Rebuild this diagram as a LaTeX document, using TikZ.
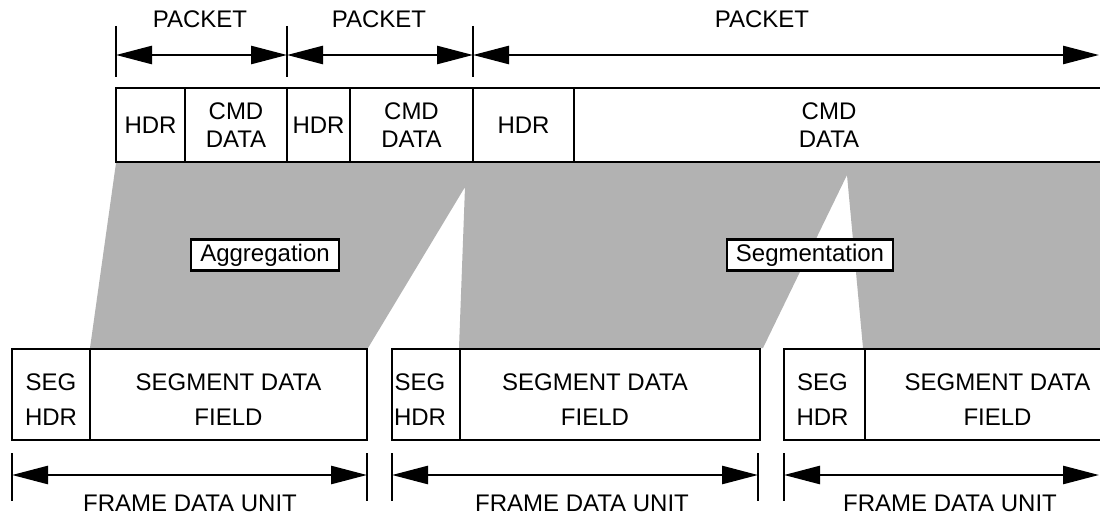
\documentclass[tikz,border=0pt]{standalone}
\usepackage{fontspec}
\setmainfont{Liberation Sans}
\usetikzlibrary{arrows.meta}
\begin{document}
\begin{tikzpicture}[x=1pt,y=-1pt,
  font=\fontsize{24}{28}\selectfont,
  fld/.style={draw, line width=2.6pt, inner sep=0pt, align=center, minimum height=74pt},
  frm/.style={draw, line width=2.6pt, inner sep=0pt, minimum height=91pt},
  frtxt/.style={align=center, yshift=-5pt, font=\fontsize{24}{35}\selectfont},
  dimarrow/.style={line width=2.6pt, {Triangle[length=36pt,width=18pt]}-{Triangle[length=36pt,width=18pt]}},
  tickline/.style={line width=2.6pt},
  graybg/.style={fill=black!30},
  tag/.style={draw, fill=white, line width=2.3pt, inner xsep=9pt, inner ysep=0pt, minimum height=31pt}
]
\useasboundingbox (0,0) rectangle (1100,516);
\clip (0,0) rectangle (1100,516);

% shaded mapping area
\fill[graybg] (116,163) -- (1100,163) -- (1100,348) -- (863,348) -- (847,175) -- (763,348)
  -- (459,348) -- (465,187) -- (368,348) -- (90,348) -- cycle;

% packet row
\node[fld, minimum width=69pt]  (p1h) at (150.5,125) {HDR};
\node[fld, minimum width=102pt] (p1d) at (236,125) {CMD\\DATA};
\node[fld, minimum width=63pt]  (p2h) at (318.5,125) {HDR};
\node[fld, minimum width=123pt] (p2d) at (411.5,125) {CMD\\DATA};
\node[fld, minimum width=101pt] (p3h) at (523.5,125) {HDR};
\node[fld, minimum width=566pt,
  label={[name=p3t, align=center, xshift=-28pt]center:{CMD\\DATA}}] (p3d) at (857,125) {};

% packet dimension lines
\coordinate (pa) at (116,55);
\coordinate (pb) at (287,55);
\coordinate (pc) at (473,55);
\coordinate (pd) at (1099,55);
\foreach \c in {pa,pb,pc}
  \draw[tickline] ([yshift=29pt]\c) -- ([yshift=-22pt]\c);
\draw[dimarrow] (pa) -- (pb);
\draw[dimarrow] (pb) -- (pc);
\draw[dimarrow] (pc) -- (pd);
\node (k1) at (200,19) {PACKET};
\node (k2) at (379,19) {PACKET};
\node (k3) at (762,19) {PACKET};

% frame row
\node[frm, minimum width=78pt,
  label={[name=f1ht, frtxt]center:{SEG\\HDR}}] (f1h) at (51,394.5) {};
\node[frm, minimum width=277pt,
  label={[name=f1dt, frtxt]center:{SEGMENT DATA\\FIELD}}] (f1d) at (228.5,394.5) {};
\node[frm, minimum width=68pt,
  label={[name=f2ht, frtxt, xshift=-6pt]center:{SEG\\HDR}}] (f2h) at (426,394.5) {};
\node[frm, minimum width=300pt,
  label={[name=f2dt, frtxt, xshift=-15pt]center:{SEGMENT DATA\\FIELD}}] (f2d) at (610,394.5) {};
\node[frm, minimum width=81pt,
  label={[name=f3ht, frtxt, xshift=-2pt]center:{SEG\\HDR}}] (f3h) at (824.5,394.5) {};
\node[frm, minimum width=265pt,
  label={[name=f3dt, frtxt]center:{SEGMENT DATA\\FIELD}}] (f3d) at (997.5,394.5) {};

% frame dimension lines
\coordinate (fa) at (12,475);
\coordinate (fb) at (367,475);
\coordinate (fc) at (392,475);
\coordinate (fd) at (758,475);
\coordinate (fe) at (784,475);
\coordinate (ff) at (1099,475);
\foreach \c in {fa,fb,fc,fd,fe}
  \draw[tickline] ([yshift=22pt]\c) -- ([yshift=-26pt]\c);
\draw[dimarrow] (fa) -- (fb);
\draw[dimarrow] (fc) -- (fd);
\draw[dimarrow] (fe) -- (ff);
\node (u1) at (190,503) {FRAME DATA UNIT};
\node (u2) at (582,503) {FRAME DATA UNIT};
\node (u3) at (950,503) {FRAME DATA UNIT};

% process labels
\node[tag] (agg) at (265,255) {Aggregation};
\node[tag] (seg) at (810,255) {Segmentation};
\end{tikzpicture}
\end{document}
